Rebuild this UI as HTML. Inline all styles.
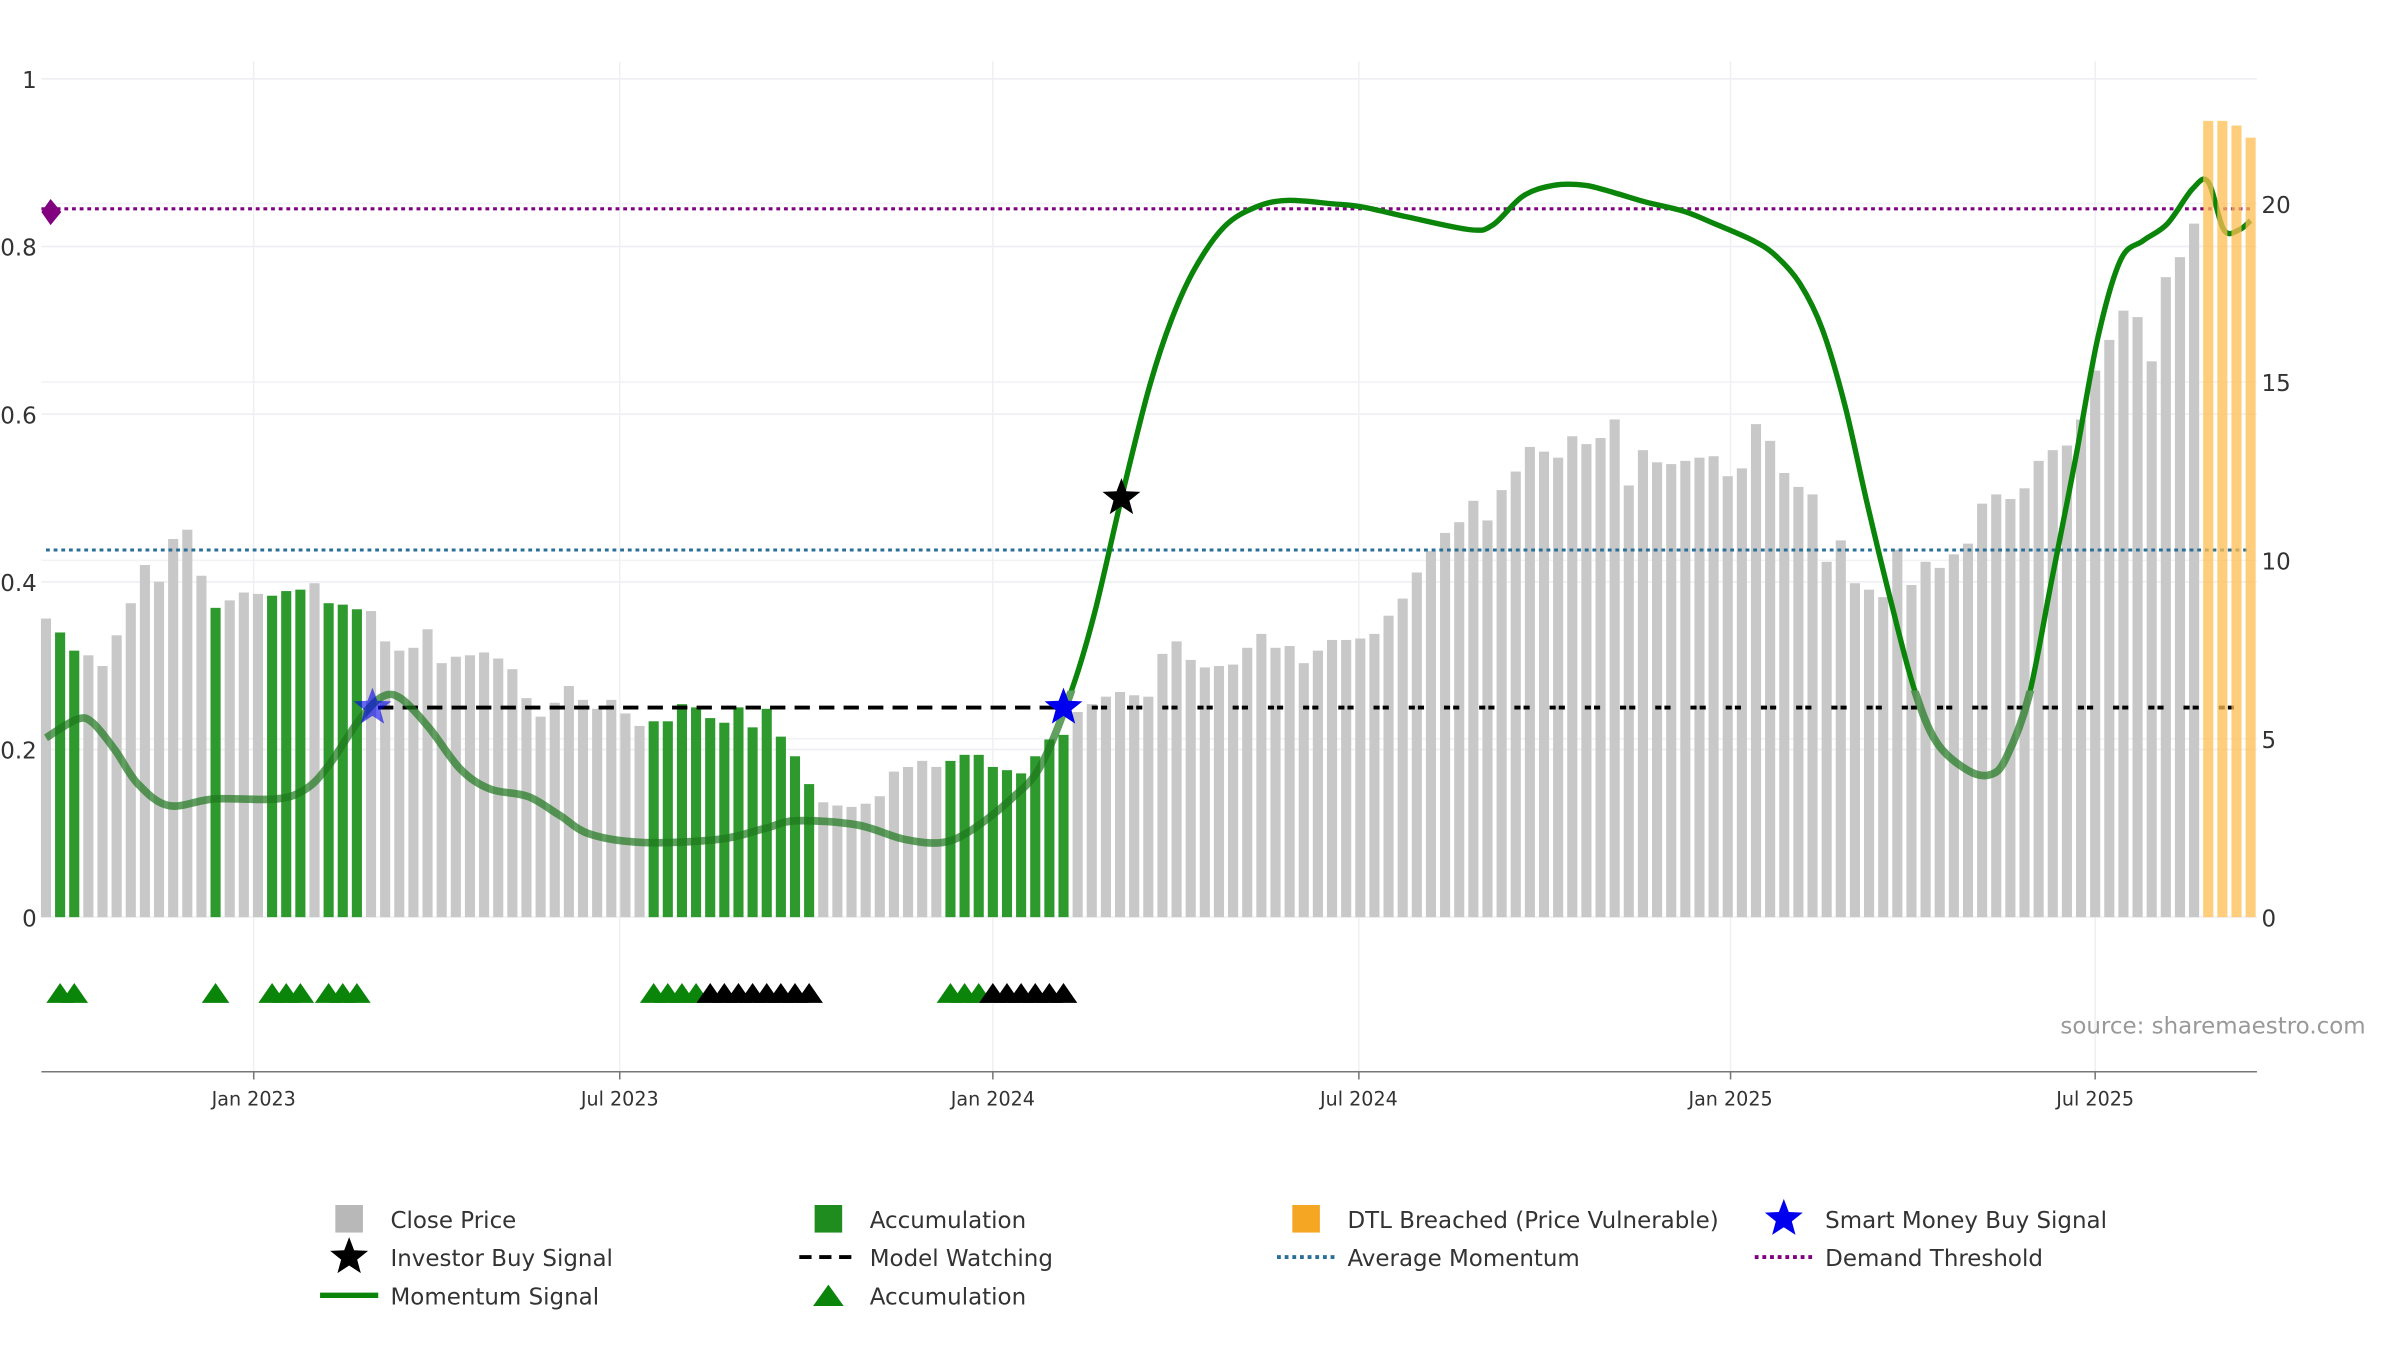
<!DOCTYPE html>
<html><head><meta charset="utf-8"><style>
html,body{margin:0;padding:0;background:#fff;}
svg{display:block;font-family:"DejaVu Sans","Liberation Sans",sans-serif;}
</style></head><body>
<svg id="chart" width="2400" height="1350" viewBox="0 0 1567.4 881.7" xmlns="http://www.w3.org/2000/svg">
<g id="grid"></g>
<g id="bars"></g>
<g id="lines"></g>
<g id="marks"></g>
<g id="axes"></g>
<text x="1545" y="675" text-anchor="end" font-size="15" fill="#999">source: sharemaestro.com</text>
<g id="legend" font-size="15" fill="#333"></g>
</svg>
<script>
const prices=[8.37,7.98,7.47,7.34,7.04,7.90,8.80,9.87,9.40,10.60,10.86,9.57,8.67,8.88,9.10,9.06,9.01,9.14,9.18,9.36,8.80,8.76,8.63,8.58,7.73,7.47,7.55,8.07,7.12,7.30,7.34,7.42,7.25,6.95,6.14,5.62,6.01,6.48,6.09,5.84,6.09,5.71,5.36,5.49,5.49,5.97,5.88,5.58,5.45,5.88,5.32,5.84,5.06,4.51,3.73,3.22,3.13,3.09,3.18,3.39,4.08,4.21,4.38,4.21,4.38,4.55,4.55,4.21,4.12,4.03,4.51,4.98,5.11,5.75,5.97,6.18,6.31,6.22,6.18,7.38,7.73,7.21,7.00,7.04,7.08,7.55,7.94,7.55,7.60,7.12,7.47,7.77,7.77,7.81,7.94,8.45,8.93,9.66,10.26,10.77,11.07,11.67,11.12,11.97,12.49,13.18,13.05,12.88,13.48,13.26,13.43,13.95,12.10,13.09,12.75,12.70,12.79,12.88,12.92,12.36,12.58,13.82,13.35,12.45,12.06,11.85,9.96,10.56,9.36,9.18,8.97,10.30,9.31,9.96,9.79,10.17,10.47,11.59,11.85,11.72,12.02,12.79,13.09,13.22,13.95,15.32,16.18,17.00,16.82,15.58,17.94,18.50,19.44,22.32,22.32,22.19,21.85];
const accumIdx=[1,2,12,16,17,18,20,21,22,43,44,45,46,47,48,49,50,51,52,53,54,64,65,66,67,68,69,70,71,72];
const breachedIdx=[153,154,155,156];
const greenTriIdx=[1,2,12,16,17,18,20,21,22,43,44,45,46,64,65,66];
const blackTriIdx=[47,48,49,50,51,52,53,54,67,68,69,70,71,72];
const momWeeks=[0,2.2,3.3,4.9,6.5,8.7,11.9,16.3,18.4,20.0,22.2,23.8,25.1,27.1,29.3,31.4,34.1,36.3,38.5,42.3,47.7,50.9,53.1,57.4,60.7,63.4,65.5,68.3,70.4,72.6,74.2,76.1,78.0,79.6,81.3,83.4,85.6,87.8,91.0,93.2,96.4,100.8,102.4,104.5,106.7,108.9,111.0,113.2,115.9,118.1,120.8,122.4,124.1,125.7,127.3,128.9,130.6,132.2,133.8,136.0,137.6,138.7,140.3,141.9,143.6,145.2,146.8,148.4,150.1,151.9,153.0,154.1,155.2,156.0];
const momValues=[0.214,0.236,0.232,0.199,0.159,0.133,0.141,0.141,0.153,0.181,0.236,0.263,0.261,0.226,0.177,0.153,0.144,0.122,0.099,0.089,0.093,0.106,0.115,0.110,0.093,0.089,0.104,0.141,0.181,0.272,0.363,0.500,0.628,0.711,0.774,0.824,0.847,0.855,0.851,0.847,0.835,0.820,0.826,0.860,0.873,0.873,0.864,0.853,0.842,0.827,0.807,0.789,0.756,0.701,0.610,0.491,0.373,0.272,0.208,0.175,0.170,0.190,0.263,0.400,0.546,0.692,0.784,0.807,0.827,0.869,0.877,0.820,0.820,0.831];
const leftTicks=[0,0.2,0.4,0.6,0.8,1];
const leftTickLabels=["0","0.2","0.4","0.6","0.8","1"];
const rightTicks=[0,5,10,15,20];
const dateWeeks=[14.7,40.6,67.0,92.9,119.2,145.0];
const dateLabels=["Jan 2023","Jul 2023","Jan 2024","Jul 2024","Jan 2025","Jul 2025"];
const demandThreshold=0.845, avgMomentum=0.438, watchLevel=0.25;
const smartBuy=[[23.1,0.25],[72.0,0.25]];
const investorBuy=[[76.1,0.50]];

const NS="http://www.w3.org/2000/svg";
const X0=30, DX=9.23, Y0=599;
const xs=i=>X0+i*DX;
const yl=v=>Y0-v*547.5;
const yr=v=>Y0-v*23.3;
function el(tag,attrs,parent){const e=document.createElementNS(NS,tag);for(const k in attrs)e.setAttribute(k,attrs[k]);parent.appendChild(e);return e;}
const G=id=>document.getElementById(id);

leftTicks.forEach(t=>{const l=el('line',{x1:27,x2:1474,y1:yl(t),y2:yl(t),stroke:'#eceef2','stroke-width':1},G('grid'));
});
rightTicks.forEach(t=>{const l=el('line',{x1:27,x2:1474,y1:yr(t),y2:yr(t),stroke:'#f1f2f5','stroke-width':1},G('grid'));
});
dateWeeks.forEach(w=>{const l=el('line',{x1:xs(w),x2:xs(w),y1:40,y2:700,stroke:'#eef0f3','stroke-width':1},G('grid'));
});

prices.forEach((p,i)=>{let c='#c8c8c8',n='close-price-bar';
 if(accumIdx.includes(i)){c='#2e9a2e';n='accumulation-bar';}
 if(breachedIdx.includes(i)){c='rgba(255,190,80,0.75)';n='dtl-breached-bar';}
 const r=el('rect',{x:xs(i)-3.3,y:yr(p),width:6.6,height:Y0-yr(p),fill:c},G(breachedIdx.includes(i)?'marks':'bars'));
 });

const L=G('lines');
let hl=el('line',{x1:27,x2:1472,y1:yl(demandThreshold),y2:yl(demandThreshold),stroke:'#800080','stroke-width':2,'stroke-dasharray':'2.5,2.5'},L);

hl=el('line',{x1:30,x2:1470,y1:yl(avgMomentum),y2:yl(avgMomentum),stroke:'#2a6f97','stroke-width':2,'stroke-dasharray':'2.5,2.5'},L);

hl=el('line',{x1:xs(23.5),x2:xs(72.5),y1:yl(watchLevel),y2:yl(watchLevel),stroke:'#000','stroke-width':2.5,'stroke-dasharray':'10,6'},L);

hl=el('line',{x1:xs(74),x2:1472,y1:yl(watchLevel),y2:yl(watchLevel),stroke:'#000','stroke-width':2.5,'stroke-dasharray':'4,2,4,13'},L);


const pts=momWeeks.map((w,i)=>[xs(w),yl(momValues[i])]);
let d='M'+pts[0][0]+','+pts[0][1];
for(let i=0;i<pts.length-1;i++){const p0=pts[Math.max(0,i-1)],p1=pts[i],p2=pts[i+1],p3=pts[Math.min(pts.length-1,i+2)];
 d+=` C${p1[0]+(p2[0]-p0[0])/6},${p1[1]+(p2[1]-p0[1])/6} ${p2[0]-(p3[0]-p1[0])/6},${p2[1]-(p3[1]-p1[1])/6} ${p2[0]},${p2[1]}`;}
const defs=el('defs',{},G('chart'));
const cp=el('clipPath',{id:'upper'},defs);el('rect',{x:0,y:0,width:1600,height:yl(0.27)},cp);
const cp2=el('clipPath',{id:'lower'},defs);el('rect',{x:0,y:yl(0.27),width:1600,height:600},cp2);
let mp=el('path',{d:d,fill:'none',stroke:'rgba(30,120,30,0.7)','stroke-width':5,'clip-path':'url(#lower)'},L);

mp=el('path',{d:d,fill:'none',stroke:'#0a850a','stroke-width':3.5,'clip-path':'url(#upper)'},L);


const M=G('marks');
function star(cx,cy,r,fill,op,name){let s='';for(let k=0;k<10;k++){const a=-Math.PI/2+k*Math.PI/5,rr=k%2?r*0.42:r;s+=(cx+rr*Math.cos(a))+','+(cy+rr*Math.sin(a))+' ';}
 const e=el('polygon',{points:s,fill:fill,opacity:op},M);}
smartBuy.forEach((s,i)=>star(xs(s[0]),yl(s[1]),13,'#0000ee',i==0?0.6:1,'smart-money-buy-signal'));
investorBuy.forEach(s=>star(xs(s[0]),yl(s[1]),13,'#000','1','investor-buy-signal'));
let dm=el('polygon',{points:'27,138.5 33,130 40,138.5 33,147',fill:'#800080'},M);

function tri(i,c,name){const x=xs(i);const t=el('polygon',{points:`${x-9},655 ${x+9},655 ${x},642`,fill:c},M);
 }
greenTriIdx.forEach(i=>tri(i,'#0a850a','accumulation-triangle'));
blackTriIdx.forEach(i=>tri(i,'#000','watch-triangle'));

const A=G('axes');
let ax=el('line',{x1:27,x2:1474,y1:700,y2:700,stroke:'#777','stroke-width':1},A);

leftTicks.forEach((t,i)=>{const tx=el('text',{x:24,y:yl(t)+6,'text-anchor':'end','font-size':15,fill:'#333'},A);tx.textContent=leftTickLabels[i];
 });
rightTicks.forEach(t=>{const tx=el('text',{x:1477,y:yr(t)+6,'font-size':15,fill:'#333'},A);tx.textContent=String(t);
 });
dateWeeks.forEach((w,i)=>{el('line',{x1:xs(w),x2:xs(w),y1:700,y2:705,stroke:'#777'},A);
 const tx=el('text',{x:xs(w),y:722,'text-anchor':'middle','font-size':12.5,fill:'#333'},A);tx.textContent=dateLabels[i];
 });
</script>
<script>
const Lg=document.getElementById('legend');
const items=[
 [228,796,'sq','#b8b8b8','Close Price'],[541,796,'sq','#1e8c1e','Accumulation'],[853,796,'sq','#f5a623','DTL Breached (Price Vulnerable)'],[1165,796,'star','#0000ee','Smart Money Buy Signal'],
 [228,821,'star','#000','Investor Buy Signal'],[541,821,'dash','#000','Model Watching'],[853,821,'dot','#2a6f97','Average Momentum'],[1165,821,'dot','#800080','Demand Threshold'],
 [228,846,'line','#0a850a','Momentum Signal'],[541,846,'tri','#0a850a','Accumulation']];
items.forEach(it=>{const [x,y,t,c,label]=it;const g=document.createElementNS(NS,'g');Lg.appendChild(g);
 
 
 if(t=='sq')el('rect',{x:x-9,y:y-9,width:18,height:18,fill:c},g);
 if(t=='star'){let s='';for(let k=0;k<10;k++){const a=-Math.PI/2+k*Math.PI/5,rr=k%2?5.5:13;s+=(x+rr*Math.cos(a))+','+(y+rr*Math.sin(a))+' ';}el('polygon',{points:s,fill:c},g);}
 if(t=='dash')el('line',{x1:x-19,x2:x+19,y1:y,y2:y,stroke:c,'stroke-width':2.5,'stroke-dasharray':'8,5'},g);
 if(t=='dot')el('line',{x1:x-19,x2:x+19,y1:y,y2:y,stroke:c,'stroke-width':2.5,'stroke-dasharray':'2.5,2.5'},g);
 if(t=='line')el('line',{x1:x-19,x2:x+19,y1:y,y2:y,stroke:c,'stroke-width':3.5},g);
 if(t=='tri')el('polygon',{points:`${x-10},${y+7} ${x+10},${y+7} ${x},${y-7}`,fill:c},g);
 const tx=el('text',{x:x+27,y:y+6,'font-size':15,fill:'#333'},g);tx.textContent=label;});
</script>
</body></html>
